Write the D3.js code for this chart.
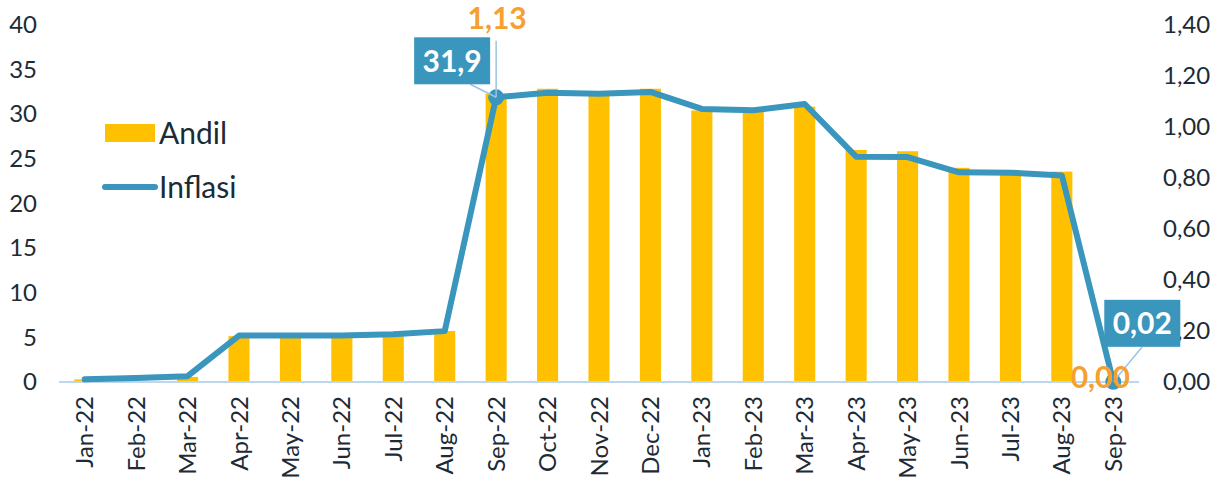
<!DOCTYPE html>
<html>
<head>
<meta charset="utf-8">
<script src="https://cdn.jsdelivr.net/npm/d3@7"></script>
<style>
  body { margin: 0; background: #fff; }
  svg { display: block; font-family: Lato, "Open Sans", sans-serif; }
</style>
</head>
<body>
<svg id="chart" width="1214" height="479"></svg>
<script>
// months on the x axis
let months = ['Jan-22', 'Feb-22', 'Mar-22', 'Apr-22', 'May-22', 'Jun-22', 'Jul-22', 'Aug-22',
              'Sep-22', 'Oct-22', 'Nov-22', 'Dec-22', 'Jan-23', 'Feb-23', 'Mar-23', 'Apr-23',
              'May-23', 'Jun-23', 'Jul-23', 'Aug-23', 'Sep-23'];
// Andil (bars, right axis)
let andil = [0.01, 0.005, 0.02, 0.18, 0.175, 0.175, 0.18, 0.2,
             1.13, 1.15, 1.135, 1.15, 1.065, 1.06, 1.08, 0.91,
             0.905, 0.84, 0.83, 0.825, 0.00];
// Inflasi (line, left axis)
let inflasi = [0.3, 0.45, 0.65, 5.2, 5.2, 5.2, 5.35, 5.7,
               31.9, 32.4, 32.3, 32.5, 30.6, 30.45, 31.15, 25.25,
               25.2, 23.5, 23.45, 23.15, 0.02];
let leftTicks = [0, 5, 10, 15, 20, 25, 30, 35, 40];
let rightTicks = [0, 0.2, 0.4, 0.6, 0.8, 1.0, 1.2, 1.4];
let labelled = ['Sep-22', 'Sep-23'];

const locale = d3.formatLocale({decimal: ',', thousands: '.', grouping: [3], currency: ['', '']});
const fmtLine = locale.format('.2~f');
const fmtBar = locale.format('.2f');

const BAR = '#FFC000', LINE = '#3A96BD', TXT = '#1c2b36', ORANGE = '#F5A02F';

let svg = d3.select('#chart');

let x = d3.scaleBand().domain(months).range([59, 1139]).paddingInner(0.59).paddingOuter(0.295);
let yL = d3.scaleLinear().domain([0, 40]).range([382, 25]);
let yR = d3.scaleLinear().domain([0, 1.4]).range([382, 25]);

let rows = months.map((m, i) => ({m: m, a: andil[i], v: inflasi[i]}));

// bars
svg.append('g')
    .selectAll('rect')
    .data(rows)
    .enter()
    .append('rect')
    .attr('x', d => x(d.m))
    .attr('width', x.bandwidth())
    .attr('y', d => yR(d.a))
    .attr('height', d => yR(0) - yR(d.a))
    .attr('fill', BAR)

// baseline
svg.append('line')
    .attr('x1', 59).attr('x2', 1139)
    .attr('y1', yL(0)).attr('y2', yL(0))
    .attr('stroke', '#BDD7EE')
    .attr('stroke-width', 2)

// axes
let axL = svg.append('g')
    .attr('transform', 'translate(40,0)')
    .call(d3.axisLeft(yL).tickValues(leftTicks).tickSize(0).tickPadding(3));
let axR = svg.append('g')
    .attr('transform', 'translate(1160,0)')
    .call(d3.axisRight(yR).tickValues(rightTicks).tickSize(0).tickPadding(3)
        .tickFormat(locale.format('.2f')));
let axX = svg.append('g')
    .attr('transform', 'translate(0,' + yL(0) + ')')
    .call(d3.axisBottom(x).tickSize(0));
axX.selectAll('text')
    .attr('transform', 'rotate(-90)')
    .attr('x', -14)
    .attr('y', 0)
    .attr('dy', '0.36em')
    .style('text-anchor', 'end');
[axL, axR, axX].forEach(g => {
    g.select('.domain').remove();
    g.selectAll('text')
        .attr('fill', TXT)
        .style('font-family', 'Lato, "Open Sans", sans-serif')
        .style('font-size', '24px');
});

// line
let cx = m => x(m) + x.bandwidth() / 2;
svg.append('path')
    .datum(rows)
    .attr('d', d3.line().x(d => cx(d.m)).y(d => yL(d.v)))
    .attr('fill', 'none')
    .attr('stroke', LINE)
    .attr('stroke-width', 6)
    .attr('stroke-linejoin', 'round')
    .attr('stroke-linecap', 'round')

let marked = rows.filter(d => labelled.includes(d.m));

svg.append('g')
    .selectAll('circle')
    .data(marked)
    .enter()
    .append('circle')
    .attr('cx', d => cx(d.m))
    .attr('cy', d => yL(d.v))
    .attr('r', 8)
    .attr('fill', LINE)

// data labels: offsets of the callouts from their points
let lineOff = {'Sep-22': [-44, -36], 'Sep-23': [29, -58]};
let barOff = {'Sep-22': [1, -75], 'Sep-23': [-13, -5]};

marked.forEach(d => {
    let px = cx(d.m), py = yL(d.v);
    let lx = px + lineOff[d.m][0], ly = py + lineOff[d.m][1];
    let bx = px + barOff[d.m][0], by = yR(d.a) + barOff[d.m][1];

    // leader lines
    svg.append('line')
        .attr('x1', px).attr('y1', py)
        .attr('x2', d.m === 'Sep-22' ? lx + 18 : lx).attr('y2', ly + 23)
        .attr('stroke', '#9DC3E6').attr('stroke-width', 1.5)
    if (d.m === 'Sep-22') {
        svg.append('line')
            .attr('x1', px).attr('y1', py)
            .attr('x2', px).attr('y2', by + 22)
            .attr('stroke', '#9DC3E6').attr('stroke-width', 1.5)
    }

    // bar value (orange)
    svg.append('text')
        .attr('x', bx).attr('y', by)
        .attr('dy', '0.35em')
        .attr('text-anchor', 'middle')
        .attr('fill', ORANGE)
        .style('font-size', '30px')
        .style('font-weight', 'bold')
        .text(fmtBar(d.a))

    // line value (box)
    svg.append('rect')
        .attr('x', lx - 38).attr('y', ly - 24)
        .attr('width', 76).attr('height', 47)
        .attr('fill', LINE)
    svg.append('text')
        .attr('x', lx).attr('y', ly)
        .attr('dy', '0.35em')
        .attr('text-anchor', 'middle')
        .attr('fill', '#fff')
        .style('font-size', '30px')
        .style('font-weight', 'bold')
        .text(fmtLine(d.v))
});

// legend
let lg = svg.append('g').attr('transform', 'translate(104,0)');
lg.append('rect')
    .attr('x', 1).attr('y', 124)
    .attr('width', 50).attr('height', 18)
    .attr('fill', BAR)
lg.append('line')
    .attr('x1', 1).attr('x2', 51)
    .attr('y1', 187).attr('y2', 187)
    .attr('stroke', LINE)
    .attr('stroke-width', 6)
    .attr('stroke-linecap', 'round')
lg.selectAll('text')
    .data(['Andil', 'Inflasi'])
    .enter()
    .append('text')
    .attr('x', 55)
    .attr('y', (d, i) => 133 + i * 54)
    .attr('dy', '0.35em')
    .attr('fill', TXT)
    .style('font-size', '30px')
    .text(d => d)
</script>
</body>
</html>
